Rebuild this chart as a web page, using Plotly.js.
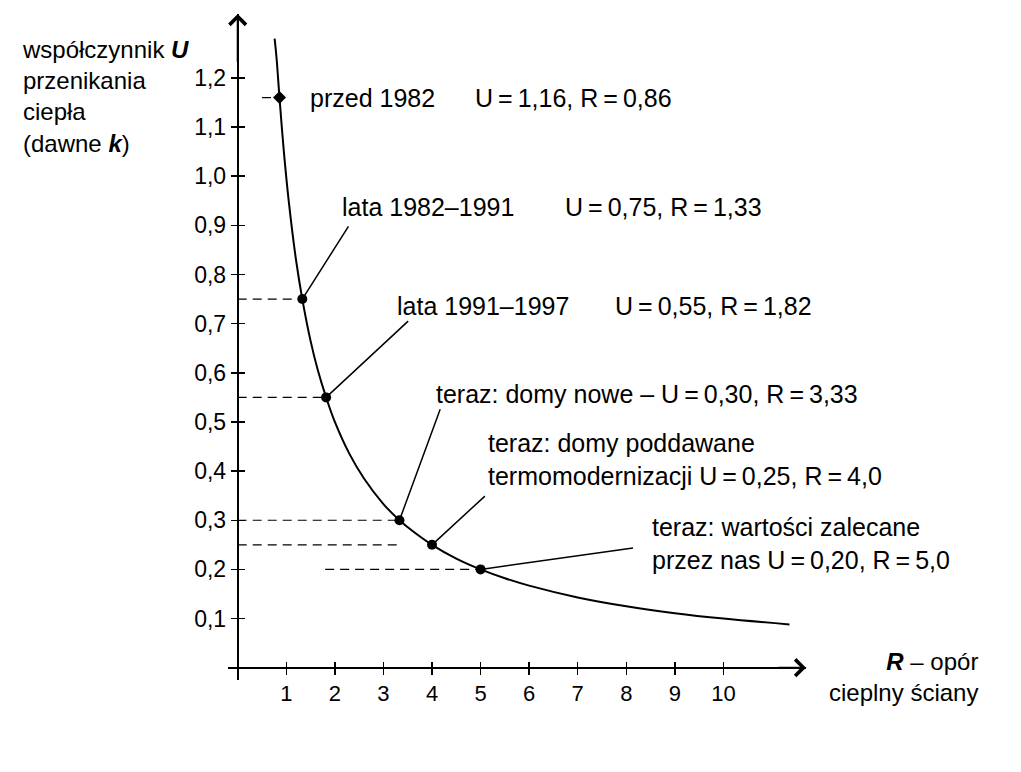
<!DOCTYPE html>
<html>
<head>
<meta charset="utf-8">
<script src="https://cdn.plot.ly/plotly-3.0.1.min.js"></script>
<style>
  body { margin: 0; background: #fff; }
  #chartDiv { width: 1021px; height: 772px; }
</style>
</head>
<body>
<div id="chartDiv"></div>
<script>
// curve U = f(R)
var curveR = [0.76, 0.8, 0.86, 0.95, 1.05, 1.2, 1.33, 1.5, 1.65, 1.82, 2.0, 2.3, 2.6, 3.0, 3.33, 3.6, 4.0, 4.5, 5.0, 5.5, 6.0, 7.0, 8.0, 9.0, 10.0, 11.36];
var curveU = [1.28, 1.24, 1.16, 1.05, 0.95, 0.83, 0.75, 0.665, 0.605, 0.55, 0.50, 0.435, 0.385, 0.333, 0.30, 0.278, 0.25, 0.222, 0.20, 0.182, 0.167, 0.143, 0.125, 0.111, 0.10, 0.088];

// marked points
var pointR = [0.86, 1.33, 1.82, 3.33, 4.0, 5.0];
var pointU = [1.16, 0.75, 0.55, 0.30, 0.25, 0.20];

// dashed helper lines (from R start to R end at level U)
var dashStartR = [0.5, 0, 0, 0, 0, 1.8];
var dashEndR = [0.86, 1.33, 1.82, 3.33, 3.3, 5.0];
var dashU = [1.16, 0.75, 0.55, 0.30, 0.25, 0.20];

// labels (thin spaces around "=" as in the original typesetting)
var labelText = ['przed 1982', 'lata 1982\u20131991', 'lata 1991\u20131997',
    'teraz: domy nowe \u2013 U\u2009=\u20090,30, R\u2009=\u20093,33',
    'teraz: domy poddawane<br>termomodernizacji U\u2009=\u20090,25, R\u2009=\u20094,0',
    'teraz: wartości zalecane<br>przez nas U\u2009=\u20090,20, R\u2009=\u20095,0'];
var labelR = [1.44, 2.10, 3.23, 4.05, 5.12, 8.48];
var labelU = [1.159, 0.937, 0.736, 0.557, 0.423, 0.252];
var valueText = ['U\u2009=\u20091,16, R\u2009=\u20090,86', 'U\u2009=\u20090,75, R\u2009=\u20091,33', 'U\u2009=\u20090,55, R\u2009=\u20091,82'];
var valueR = [4.84, 6.69, 7.72];

// leader line tails (index 0 has none)
var leaderR = [null, 2.30, 3.54, 4.18, 5.12, 8.17];
var leaderU = [null, 0.901, 0.708, 0.529, 0.352, 0.244];

// axis ticks
var xTicks = [1, 2, 3, 4, 5, 6, 7, 8, 9, 10];
var xTickText = ['1', '2', '3', '4', '5', '6', '7', '8', '9', '10'];
var yTicks = [0.1, 0.2, 0.3, 0.4, 0.5, 0.6, 0.7, 0.8, 0.9, 1.0, 1.1, 1.2];
var yTickText = ['0,1', '0,2', '0,3', '0,4', '0,5', '0,6', '0,7', '0,8', '0,9', '1,0', '1,1', '1,2'];

var xRange = [-0.2, 11.7];
var yRange = [-0.025, 1.33];
var FONT = 'Liberation Sans, Arial, sans-serif';

var data = [];
// dashed lines first so curve sits on top
for (var i = 0; i < dashU.length; i++) {
    data.push({
        x: [dashStartR[i], dashEndR[i]],
        y: [dashU[i], dashU[i]],
        mode: 'lines',
        type: 'scatter',
        line: {color: '#000', width: 1.2, dash: '9px,6px'},
        hoverinfo: 'skip'
    });
}
data.push({
    x: curveR,
    y: curveU,
    mode: 'lines',
    type: 'scatter',
    line: {color: '#000', width: 2, shape: 'spline', smoothing: 1},
    hoverinfo: 'skip'
});
data.push({
    x: pointR,
    y: pointU,
    mode: 'markers',
    type: 'scatter',
    marker: {color: '#000', opacity: 1, size: 10, line: {width: 0},
        symbol: ['diamond', 'circle', 'circle', 'circle', 'circle', 'circle']},
    hoverinfo: 'skip'
});
// invisible trace to keep the overlay axis (inner tick halves) alive
data.push({x: [xRange[0]], y: [yRange[0]], xaxis: 'x2', yaxis: 'y2', mode: 'markers',
    type: 'scatter', marker: {opacity: 0}, hoverinfo: 'skip'});

var xPos = -xRange[0] / (xRange[1] - xRange[0]);
var yPos = -yRange[0] / (yRange[1] - yRange[0]);

var annotations = [];
for (var i = 0; i < labelText.length; i++) {
    annotations.push({
        x: labelR[i], y: labelU[i], xref: 'x', yref: 'y',
        text: labelText[i], showarrow: false, xanchor: 'left', yanchor: 'middle', align: 'left',
        font: {family: FONT, size: 25, color: '#000'}
    });
    if (leaderR[i] !== null) {
        annotations.push({
            x: pointR[i], y: pointU[i], ax: leaderR[i], ay: leaderU[i],
            xref: 'x', yref: 'y', axref: 'x', ayref: 'y',
            text: '', showarrow: true, arrowhead: 0, arrowwidth: 1.5, arrowcolor: '#000', standoff: 0
        });
    }
}
for (var i = 0; i < valueText.length; i++) {
    annotations.push({
        x: valueR[i], y: labelU[i], xref: 'x', yref: 'y',
        text: valueText[i], showarrow: false, xanchor: 'left', yanchor: 'middle',
        font: {family: FONT, size: 25, color: '#000'}
    });
}
// axis arrows
annotations.push({x: xRange[1], y: 0, ax: xRange[1] - 0.6, ay: 0, xref: 'x', yref: 'y', axref: 'x', ayref: 'y',
    text: '', showarrow: true, arrowhead: 4, arrowsize: 1.6, arrowwidth: 2, arrowcolor: '#000', standoff: 0});
annotations.push({x: 0, y: yRange[1], ax: 0, ay: yRange[1] - 0.1, xref: 'x', yref: 'y', axref: 'x', ayref: 'y',
    text: '', showarrow: true, arrowhead: 4, arrowsize: 1.6, arrowwidth: 2, arrowcolor: '#000', standoff: 0});
// axis titles
annotations.push({
    x: -0.36, y: 0.97, xref: 'paper', yref: 'paper', xanchor: 'left', yanchor: 'top', align: 'left',
    text: 'współczynnik <b><i>U</i></b><br>przenikania<br>ciepła<br>(dawne <b><i>k</i></b>)',
    showarrow: false, font: {family: FONT, size: 24, color: '#000'}
});
annotations.push({
    x: 1.301, y: 0.004, xref: 'paper', yref: 'paper', xanchor: 'right', yanchor: 'middle', align: 'right',
    text: '<b><i>R</i></b> \u2013 opór<br>cieplny ściany',
    showarrow: false, font: {family: FONT, size: 24, color: '#000'}
});

var axisCommon = {
    showgrid: false, zeroline: false, linecolor: '#000', linewidth: 2,
    tickcolor: '#000', tickwidth: 1.5, ticklen: 6,
    tickfont: {family: FONT, size: 22, color: '#000'}
};

var layout = {
    width: 1021, height: 772,
    margin: {l: 228, r: 215, t: 14, b: 92},
    paper_bgcolor: '#fff', plot_bgcolor: '#fff',
    showlegend: false,
    xaxis: Object.assign({}, axisCommon, {
        range: xRange, anchor: 'free', position: yPos, showline: true, ticks: 'outside',
        tickmode: 'array', tickvals: xTicks, ticktext: xTickText
    }),
    yaxis: Object.assign({}, axisCommon, {
        range: yRange, anchor: 'free', position: xPos, showline: true, ticks: 'outside',
        tickmode: 'array', tickvals: yTicks, ticktext: yTickText,
        tickfont: {family: FONT, size: 23, color: '#000'}
    }),
    xaxis2: Object.assign({}, axisCommon, {
        range: xRange, overlaying: 'x', anchor: 'free', position: yPos, showline: false,
        ticks: 'inside', showticklabels: false, tickmode: 'array', tickvals: xTicks
    }),
    yaxis2: Object.assign({}, axisCommon, {
        range: yRange, overlaying: 'y', anchor: 'free', position: xPos, showline: false,
        ticks: 'inside', showticklabels: false, tickmode: 'array', tickvals: yTicks
    }),
    annotations: annotations
};

Plotly.newPlot('chartDiv', data, layout, {staticPlot: true});
</script>
</body>
</html>
